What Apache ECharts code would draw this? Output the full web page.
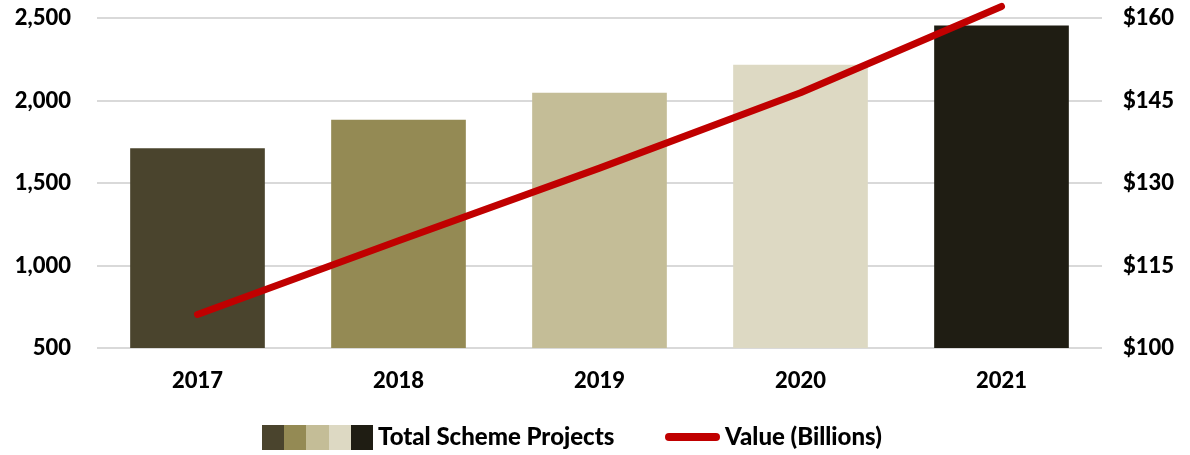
<!DOCTYPE html>
<html>
<head>
<meta charset="utf-8">
<script src="https://cdn.jsdelivr.net/npm/echarts@6/dist/echarts.min.js"></script>
<style>
html,body{margin:0;padding:0;background:#fff;}
#chart{width:1190px;height:455px;}
</style>
</head>
<body>
<div id="chart"></div>
<script>
var categories = ['2017', '2018', '2019', '2020', '2021'];
var projects = [1711, 1883, 2047, 2217, 2454];
var valueBillions = [106.1, 119.5, 132.7, 146.4, 162.1];
var leftTicks = {min: 500, max: 2500, interval: 500};
var rightTicks = {min: 100, max: 160, interval: 15};
var barColors = ['#4A442D', '#948A54', '#C4BD97', '#DDD9C3', '#1F1D13'];
var lineColor = '#C00000';

var FONT = 'Lato, "Open Sans", sans-serif';
var chart = echarts.init(document.getElementById('chart'), null, {renderer: 'canvas'});

var stops = [];
barColors.forEach(function (c, i) {
  stops.push({offset: i / barColors.length, color: c});
  stops.push({offset: (i + 1) / barColors.length - 0.0001, color: c});
});

chart.setOption({
  animation: false,
  backgroundColor: '#ffffff',
  grid: {left: 97, right: 88, top: 18, bottom: 107},
  legend: [
    {
      left: 262, top: 425, padding: 0,
      itemWidth: 111, itemHeight: 25, itemGap: 43,
      textStyle: {fontFamily: FONT, fontWeight: 900, fontSize: 24, color: '#000'},
      data: [{name: 'Total Scheme Projects', icon: 'rect',
        itemStyle: {color: new echarts.graphic.LinearGradient(0, 0, 1, 0, stops)}}]
    },
    {
      left: 665, top: 425, padding: 0,
      itemWidth: 55, itemHeight: 25, itemGap: 43,
      textStyle: {fontFamily: FONT, fontWeight: 900, fontSize: 24, color: '#000'},
      data: [{name: 'Value (Billions)', icon: 'path://M4,0 L51,0 A4,4 0 0 1 51,8 L4,8 A4,4 0 0 1 4,0 Z',
        itemStyle: {color: lineColor}}]
    }
  ],
  xAxis: {
    type: 'category',
    data: categories,
    axisLine: {show: false},
    axisTick: {show: false},
    axisLabel: {margin: 22, fontFamily: FONT, fontWeight: 900, fontSize: 22, color: '#000'}
  },
  yAxis: [
    {
      type: 'value',
      min: leftTicks.min, max: leftTicks.max, interval: leftTicks.interval,
      axisLine: {show: false}, axisTick: {show: false},
      splitLine: {lineStyle: {color: '#D9D9D9', width: 2}},
      axisLabel: {margin: 26, fontFamily: FONT, fontWeight: 900, fontSize: 22, color: '#000',
        formatter: function (v) { return v.toLocaleString('en-US'); }}
    },
    {
      type: 'value',
      min: rightTicks.min, max: rightTicks.max, interval: rightTicks.interval,
      axisLine: {show: false}, axisTick: {show: false},
      splitLine: {show: false},
      axisLabel: {margin: 21, fontFamily: FONT, fontWeight: 900, fontSize: 22, color: '#000',
        formatter: function (v) { return '$' + v; }}
    }
  ],
  series: [
    {
      name: 'Total Scheme Projects',
      type: 'bar',
      yAxisIndex: 0,
      barCategoryGap: '33%',
      data: projects.map(function (v, i) {
        return {value: v, itemStyle: {color: barColors[i]}};
      })
    },
    {
      name: 'Value (Billions)',
      type: 'line',
      yAxisIndex: 1,
      clip: false,
      symbol: 'none',
      itemStyle: {color: lineColor},
      lineStyle: {color: lineColor, width: 7, cap: 'round', join: 'round'},
      data: valueBillions,
      z: 5
    }
  ]
});
</script>
</body>
</html>
